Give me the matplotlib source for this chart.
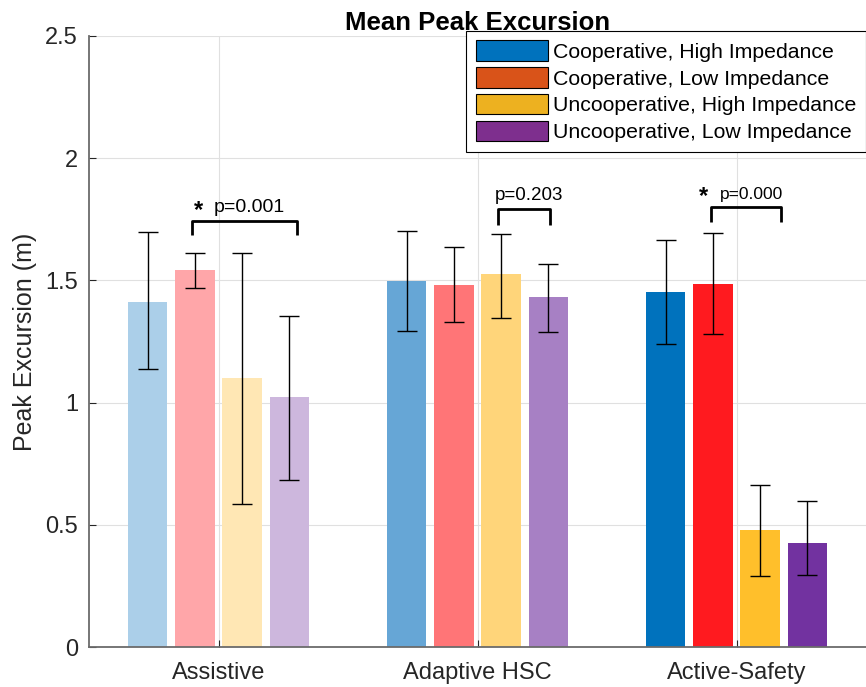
import numpy as np
import matplotlib.pyplot as plt

plt.rcParams['font.family'] = ['Liberation Sans', 'DejaVu Sans']

# data
groups = ["Assistive", "Adaptive HSC", "Active-Safety"]
labels = ["Cooperative, High Impedance", "Cooperative, Low Impedance",
          "Uncooperative, High Impedance", "Uncooperative, Low Impedance"]

means = np.array([[1.41, 1.543, 1.10, 1.022],
                  [1.497, 1.481, 1.525, 1.432],
                  [1.453, 1.486, 0.479, 0.425]])
err_lo = np.array([[1.137, 1.469, 0.585, 0.683],
                   [1.293, 1.330, 1.346, 1.289],
                   [1.240, 1.280, 0.290, 0.295]])
err_hi = np.array([[1.698, 1.612, 1.612, 1.354],
                   [1.702, 1.637, 1.690, 1.567],
                   [1.665, 1.694, 0.663, 0.597]])

legend_colors = ["#0072BD", "#D95319", "#EDB120", "#7E2F8E"]
bar_colors = [["#abcfe9", "#ffa6a9", "#ffe7b4", "#cdb7dd"],
              ["#66a6d6", "#ff7577", "#ffd57a", "#a780c4"],
              ["#0072bd", "#ff1a1f", "#ffbf2b", "#7232a0"]]

# significance annotations: (x left, x right, y top, drop, text, star x, size)
sig = [(0.898, 1.303, 1.743, 0.057, "p=0.001", 0.922, 14),
       (2.079, 2.280, 1.792, 0.065, "p=0.203", None, 13.5),
       (2.902, 3.172, 1.800, 0.062, "p=0.000", 2.872, 12.5)]

offsets = [-0.274, -0.091, 0.091, 0.274]
width = 0.152

fig = plt.figure(figsize=(8.66, 6.87), dpi=100)
ax = fig.add_axes([0.1028, 0.0582, 0.8972, 0.8894])

x = np.arange(1, len(groups) + 1)
for g in range(len(groups)):
    for k in range(4):
        xc = x[g] + offsets[k]
        ax.bar(xc, means[g, k], width, color=bar_colors[g][k], zorder=2)
        ax.errorbar(xc, means[g, k],
                    yerr=[[means[g, k] - err_lo[g, k]], [err_hi[g, k] - means[g, k]]],
                    fmt="none", ecolor="black", elinewidth=1, capsize=7.5,
                    capthick=1, zorder=3)

for xl, xr, yt, d, txt, sx, fs in sig:
    ax.plot([xl, xl, xr, xr], [yt - d, yt, yt, yt - d], color="black", lw=2,
            zorder=4, solid_capstyle="butt")
    ax.text((xl + xr) / 2 + 0.02, yt + 0.02, txt, ha="center", va="bottom",
            fontsize=fs, zorder=5)
    if sx is not None:
        ax.text(sx, yt - 0.005, "*", ha="center", va="bottom",
                fontsize=17, fontweight="bold", zorder=5)

ax.set_xlim(0.5, 3.5)
ax.set_ylim(0, 2.5)
ax.set_xticks(x)
ax.set_xticklabels(groups)
ax.set_yticks([0, 0.5, 1, 1.5, 2, 2.5])
ax.set_yticklabels(["0", "0.5", "1", "1.5", "2", "2.5"])
ax.tick_params(direction="in", length=5, labelsize=17, colors="#262626",
               width=0.8)
ax.tick_params(axis="x", pad=11)
ax.tick_params(axis="y", pad=8)
ax.grid(True, color="#e0e0e0", lw=0.8, zorder=0)
ax.set_axisbelow(True)
for s in ["top", "right"]:
    ax.spines[s].set_visible(False)
for s in ["left", "bottom"]:
    ax.spines[s].set_color("#6b6b6b")
    ax.spines[s].set_linewidth(1.3)

ax.set_ylabel("Peak Excursion (m)", fontsize=18, color="#262626", labelpad=6)
ax.set_title("Mean Peak Excursion", fontsize=18.5, fontweight="bold", pad=4)

handles = [plt.Rectangle((0, 0), 1, 1, facecolor=c, edgecolor="black", lw=0.8)
           for c in legend_colors]
leg = fig.legend(handles, labels, loc="upper right",
                 bbox_to_anchor=(1.0, 0.955), fontsize=15.3, frameon=True,
                 fancybox=False, framealpha=1, edgecolor="black",
                 handlelength=3.4, handleheight=1.1, labelspacing=0.25,
                 handletextpad=0.25, borderpad=0.45, borderaxespad=0)
leg.get_frame().set_linewidth(0.8)

fig.savefig("out.png", dpi=100)
